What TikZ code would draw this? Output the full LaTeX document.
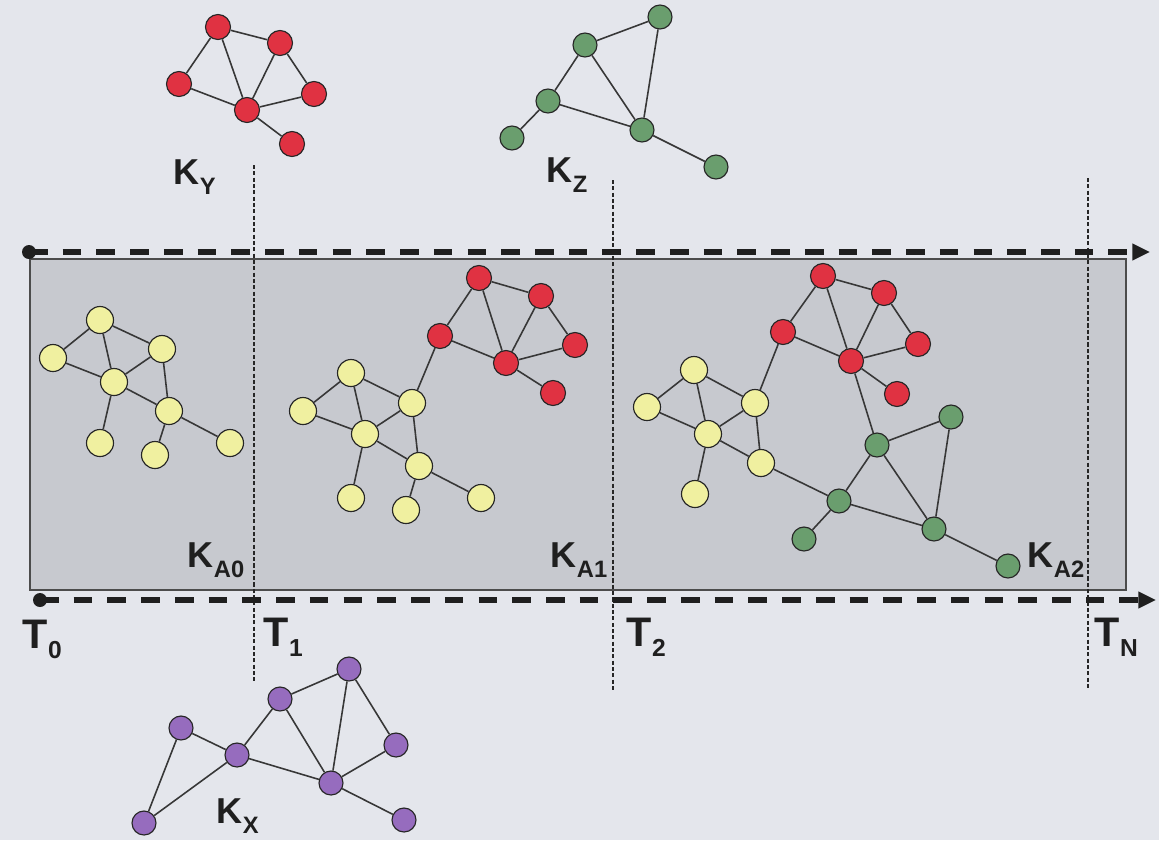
\documentclass[tikz,border=0pt]{standalone}
\usepackage{fontspec}
\setmainfont{Liberation Sans}
\usetikzlibrary{arrows.meta}
\definecolor{pagebg}{RGB}{228,230,236}
\definecolor{boxfill}{RGB}{199,201,207}
\definecolor{nred}{RGB}{224,50,66}
\definecolor{ngreen}{RGB}{106,158,110}
\definecolor{nyellow}{RGB}{240,240,160}
\definecolor{npurple}{RGB}{150,108,190}
\definecolor{edgec}{RGB}{55,55,55}
\newcommand{\Klab}[2]{#1\kern0.3pt\raisebox{-5.7pt}{\fontsize{13.5}{13.5}\selectfont #2}}
\newcommand{\Tlab}[2]{#1\kern0.3pt\raisebox{-5.7pt}{\fontsize{14}{14}\selectfont #2}}
\begin{document}
\begin{tikzpicture}[x=0.02cm,y=-0.02cm,
  vx/.style={circle,draw=black!85,line width=0.65pt,inner sep=0pt},
  redv/.style={vx,fill=nred,minimum size=0.5cm},
  grnv/.style={vx,fill=ngreen,minimum size=0.48cm},
  ylwv/.style={vx,fill=nyellow,minimum size=0.54cm},
  prpv/.style={vx,fill=npurple,minimum size=0.48cm},
  edg/.style={draw=edgec,line width=0.9pt},
  timeln/.style={draw=black!88,line width=3.2pt,dash pattern=on 10.6pt off 8.6pt,-{Triangle[length=10pt,width=9pt]}},
  tdot/.style={circle,fill=black!88,inner sep=0pt,minimum size=0.28cm},
  vdot/.style={draw=black!85,line width=0.95pt,dash pattern=on 2.3pt off 1.3pt},
  klbl/.style={inner sep=0pt,anchor=base west,font=\fontsize{20.5}{20.5}\selectfont\bfseries,text=black!88},
  tlbl/.style={inner sep=0pt,anchor=base west,font=\fontsize{23.5}{23.5}\selectfont\bfseries,text=black!88},
  box/.style={draw=black!70,line width=0.7pt,fill=boxfill,inner sep=0pt}
]
% page
\fill[pagebg] (0,0) rectangle (1159,840);
\useasboundingbox (0,0) rectangle (1159,840);
% timeline box
\node[box,minimum width=21.92cm,minimum height=6.62cm] (frame) at (578,424.5) {};
% vertical dotted time markers
\coordinate (v1a) at (254,165); \coordinate (v1b) at (254,683);
\coordinate (v2a) at (613,180); \coordinate (v2b) at (613,691);
\coordinate (vNa) at (1088,178); \coordinate (vNb) at (1088,690);
\draw[vdot] (v1a) -- (v1b);
\draw[vdot] (v2a) -- (v2b);
\draw[vdot] (vNa) -- (vNb);
% time axes
\node[tdot] (dtop) at (29,252) {};
\coordinate (etop) at (1150,252);
\draw[timeln] (dtop.center) -- (etop);
\node[tdot] (dbot) at (40,600) {};
\coordinate (ebot) at (1156,600);
\draw[timeln] (dbot.center) -- (ebot);

% ---------- K_Y (red) ----------
\node[redv] (y1) at (218,27) {};
\node[redv] (y2) at (280,43) {};
\node[redv] (y3) at (179,84) {};
\node[redv] (y4) at (314,94) {};
\node[redv] (y5) at (247,110) {};
\node[redv] (y6) at (292,144) {};
\foreach \a/\b in {y1/y2,y1/y3,y1/y5,y2/y5,y2/y4,y3/y5,y5/y4,y5/y6} \draw[edg] (\a) -- (\b);

% ---------- K_Z (green) ----------
\node[grnv] (z1) at (660,17) {};
\node[grnv] (z2) at (585,45) {};
\node[grnv] (z3) at (548,101) {};
\node[grnv] (z4) at (642,130) {};
\node[grnv] (z5) at (512,138) {};
\node[grnv] (z6) at (716,167) {};
\foreach \a/\b in {z1/z2,z1/z4,z2/z3,z2/z4,z3/z4,z3/z5,z4/z6} \draw[edg] (\a) -- (\b);

% ---------- K_A0 (yellow) ----------
\node[ylwv] (a1) at (100,320) {};
\node[ylwv] (a2) at (53,358) {};
\node[ylwv] (a3) at (162,349) {};
\node[ylwv] (a4) at (114,382) {};
\node[ylwv] (a5) at (169,411) {};
\node[ylwv] (a6) at (100,443) {};
\node[ylwv] (a7) at (155,455) {};
\node[ylwv] (a8) at (230,443) {};
\foreach \a/\b in {a1/a2,a1/a3,a1/a4,a2/a4,a3/a4,a3/a5,a4/a5,a4/a6,a5/a7,a5/a8} \draw[edg] (\a) -- (\b);

% ---------- K_A1 ----------
\node[ylwv] (b1) at (351,373) {};
\node[ylwv] (b2) at (303,411) {};
\node[ylwv] (b3) at (412,403) {};
\node[ylwv] (b4) at (365,434) {};
\node[ylwv] (b5) at (419,466) {};
\node[ylwv] (b6) at (351,498) {};
\node[ylwv] (b7) at (406,510) {};
\node[ylwv] (b8) at (481,498) {};
\foreach \a/\b in {b1/b2,b1/b3,b1/b4,b2/b4,b3/b4,b3/b5,b4/b5,b4/b6,b5/b7,b5/b8} \draw[edg] (\a) -- (\b);
\node[redv] (c1) at (479,278) {};
\node[redv] (c2) at (541,296) {};
\node[redv] (c3) at (440,336) {};
\node[redv] (c4) at (575,345) {};
\node[redv] (c5) at (506,363) {};
\node[redv] (c6) at (553,393) {};
\foreach \a/\b in {c1/c2,c1/c3,c1/c5,c2/c5,c2/c4,c3/c5,c5/c4,c5/c6} \draw[edg] (\a) -- (\b);
\draw[edg] (b3) -- (c3);

% ---------- K_A2 ----------
\node[ylwv] (d1) at (694,370) {};
\node[ylwv] (d2) at (647,407) {};
\node[ylwv] (d3) at (755,403) {};
\node[ylwv] (d4) at (708,434) {};
\node[ylwv] (d5) at (761,463) {};
\node[ylwv] (d6) at (695,494) {};
\foreach \a/\b in {d1/d2,d1/d3,d1/d4,d2/d4,d3/d4,d3/d5,d4/d5,d4/d6} \draw[edg] (\a) -- (\b);
\node[redv] (e1) at (823,276) {};
\node[redv] (e2) at (884,293) {};
\node[redv] (e3) at (783,332) {};
\node[redv] (e4) at (918,344) {};
\node[redv] (e5) at (851,361) {};
\node[redv] (e6) at (897,394) {};
\foreach \a/\b in {e1/e2,e1/e3,e1/e5,e2/e5,e2/e4,e3/e5,e5/e4,e5/e6} \draw[edg] (\a) -- (\b);
\node[grnv] (f1) at (951,417) {};
\node[grnv] (f2) at (877,445) {};
\node[grnv] (f3) at (839,501) {};
\node[grnv] (f4) at (934,529) {};
\node[grnv] (f5) at (804,539) {};
\node[grnv] (f6) at (1008,566) {};
\foreach \a/\b in {f1/f2,f1/f4,f2/f3,f2/f4,f3/f4,f3/f5,f4/f6} \draw[edg] (\a) -- (\b);
\draw[edg] (d3) -- (e3);
\draw[edg] (d5) -- (f3);
\draw[edg] (e5) -- (f2);

% ---------- K_X (purple) ----------
\node[prpv] (p1) at (349,669) {};
\node[prpv] (p2) at (280,699) {};
\node[prpv] (p3) at (181,728) {};
\node[prpv] (p4) at (396,745) {};
\node[prpv] (p5) at (237,755) {};
\node[prpv] (p6) at (331,783) {};
\node[prpv] (p7) at (144,823) {};
\node[prpv] (p8) at (404,820) {};
\foreach \a/\b in {p1/p2,p1/p4,p1/p6,p2/p5,p2/p6,p3/p5,p3/p7,p5/p7,p5/p6,p4/p6,p6/p8} \draw[edg] (\a) -- (\b);

% ---------- labels ----------
\node[klbl] (lKY) at (173,184) {\Klab{K}{Y}};
\node[klbl] (lKZ) at (546,182) {\Klab{K}{Z}};
\node[klbl] (lKA0) at (187,567) {\Klab{K}{A0}};
\node[klbl] (lKA1) at (550,567) {\Klab{K}{A1}};
\node[klbl] (lKA2) at (1027,567) {\Klab{K}{A2}};
\node[klbl] (lKX) at (216,823) {\Klab{K}{X}};
\node[tlbl] (lT0) at (22,648) {\Tlab{T}{0}};
\node[tlbl] (lT1) at (263,646) {\Tlab{T}{1}};
\node[tlbl] (lT2) at (626,646) {\Tlab{T}{2}};
\node[tlbl] (lTN) at (1094,646) {\Tlab{T}{N}};
\end{tikzpicture}
\end{document}
